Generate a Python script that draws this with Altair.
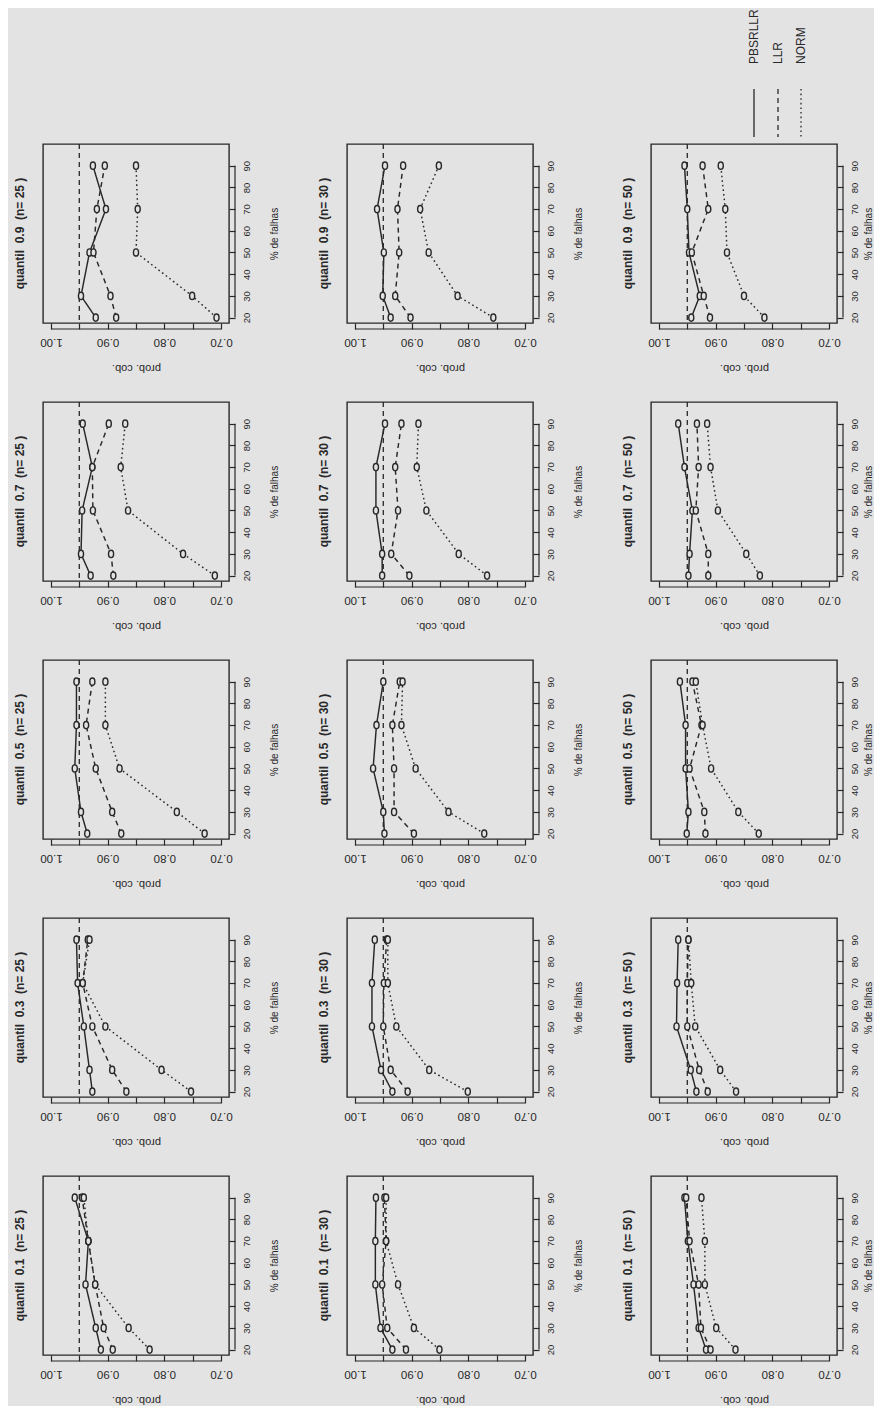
import altair as alt
import pandas as pd

# ---------------- data ----------------
falhas = [20, 30, 50, 70, 90]          # % de falhas
tamanhos = [25, 30, 50]                # n
quantis = ["0.9", "0.7", "0.5", "0.3", "0.1"]
metodos = ["PBSRLLR", "LLR", "NORM"]

# each list: one row per n (25, 30, 50), values at falhas 20,30,50,70,90
pbsrllr_q09 = [[0.921, 0.947, 0.932, 0.903, 0.926],
               [0.937, 0.951, 0.949, 0.961, 0.947],
               [0.943, 0.928, 0.947, 0.950, 0.955]]
llr_q09 = [[0.885, 0.895, 0.925, 0.919, 0.905],
           [0.902, 0.929, 0.922, 0.925, 0.915],
           [0.910, 0.921, 0.942, 0.913, 0.923]]
norm_q09 = [[0.708, 0.751, 0.850, 0.847, 0.850],
            [0.756, 0.819, 0.870, 0.885, 0.852],
            [0.814, 0.850, 0.880, 0.883, 0.891]]

pbsrllr_q07 = [[0.930, 0.947, 0.945, 0.927, 0.944],
               [0.952, 0.952, 0.963, 0.963, 0.947],
               [0.948, 0.946, 0.941, 0.955, 0.966]]
llr_q07 = [[0.890, 0.894, 0.926, 0.927, 0.898],
           [0.904, 0.936, 0.924, 0.929, 0.918],
           [0.913, 0.913, 0.935, 0.930, 0.933]]
norm_q07 = [[0.711, 0.767, 0.864, 0.877, 0.869],
            [0.767, 0.817, 0.874, 0.891, 0.888],
            [0.822, 0.846, 0.896, 0.909, 0.915]]

pbsrllr_q05 = [[0.936, 0.947, 0.958, 0.955, 0.955],
               [0.948, 0.950, 0.968, 0.962, 0.950],
               [0.951, 0.948, 0.953, 0.953, 0.963]]
llr_q05 = [[0.876, 0.892, 0.921, 0.938, 0.927],
           [0.896, 0.931, 0.931, 0.934, 0.921],
           [0.918, 0.920, 0.946, 0.925, 0.941]]
norm_q05 = [[0.729, 0.778, 0.879, 0.904, 0.904],
            [0.772, 0.835, 0.893, 0.918, 0.916],
            [0.824, 0.860, 0.908, 0.923, 0.935]]

pbsrllr_q03 = [[0.927, 0.932, 0.942, 0.953, 0.955],
               [0.934, 0.954, 0.970, 0.970, 0.965],
               [0.934, 0.944, 0.969, 0.968, 0.966]]
llr_q03 = [[0.867, 0.892, 0.927, 0.944, 0.935],
           [0.907, 0.937, 0.950, 0.949, 0.944],
           [0.914, 0.929, 0.950, 0.950, 0.948]]
norm_q03 = [[0.753, 0.805, 0.904, 0.944, 0.932],
            [0.801, 0.869, 0.927, 0.942, 0.942],
            [0.864, 0.892, 0.936, 0.943, 0.948]]

pbsrllr_q01 = [[0.912, 0.921, 0.939, 0.934, 0.958],
               [0.934, 0.955, 0.964, 0.964, 0.963],
               [0.917, 0.930, 0.939, 0.949, 0.955]]
llr_q01 = [[0.891, 0.907, 0.922, 0.934, 0.945],
           [0.910, 0.943, 0.952, 0.945, 0.948],
           [0.909, 0.926, 0.930, 0.946, 0.952]]
norm_q01 = [[0.826, 0.863, 0.922, 0.934, 0.942],
            [0.851, 0.896, 0.924, 0.945, 0.945],
            [0.865, 0.899, 0.919, 0.919, 0.925]]

nominal = [0.95]
prob_ticks = [1.00, 0.95, 0.90, 0.85, 0.80, 0.75, 0.70]
falha_ticks = [20, 30, 40, 50, 60, 70, 80, 90]

series = {
    "0.9": (pbsrllr_q09, llr_q09, norm_q09),
    "0.7": (pbsrllr_q07, llr_q07, norm_q07),
    "0.5": (pbsrllr_q05, llr_q05, norm_q05),
    "0.3": (pbsrllr_q03, llr_q03, norm_q03),
    "0.1": (pbsrllr_q01, llr_q01, norm_q01),
}

# ---------------- style ----------------
BG = "#e3e3e3"
INK = "#282828"
FONT = "Liberation Sans"
W, H = 186, 179
DASHES = {"PBSRLLR": [1, 0], "LLR": [5, 4], "NORM": [1.6, 3]}
ELLIPSE = ("M0,-1C0.39,-1 0.7,-0.55 0.7,0C0.7,0.55 0.39,1 0,1"
           "C-0.39,1 -0.7,0.55 -0.7,0C-0.7,-0.55 -0.39,-1 0,-1Z")

prob_scale = alt.Scale(domain=[0.686, 1.014], reverse=True, nice=False, zero=False)
falha_scale = alt.Scale(domain=[17.5, 100], nice=False, zero=False)

x_axis = alt.Axis(
    values=prob_ticks,
    labelExpr="round(datum.value*100) % 10 == 0 ? format(datum.value, '.2f') : ''",
    labelAngle=180, labelAlign="center", labelBaseline="middle", labelPadding=12,
    labelFontSize=11.5, labelFont=FONT, labelColor=INK, labelOverlap=False, labelFlush=False,
    tickSize=6, tickColor=INK, tickWidth=1.2, domain=False, grid=False,
    titleAngle=180, titleBaseline="middle", titleAlign="center", titleX=W / 2, titleY=44,
    titleFontSize=11, titleFont=FONT, titleColor=INK, titleFontWeight="normal",
)


def make_y_axis(title_x):
    return alt.Axis(
        orient="right", values=falha_ticks,
        labelAngle=270, labelAlign="center", labelBaseline="middle", labelPadding=11,
        labelFontSize=9.5, labelFont=FONT, labelColor=INK, labelOverlap=False, labelFlush=False,
        tickSize=6, tickColor=INK, tickWidth=1.2, domain=False, grid=False,
        titleAngle=270, titleBaseline="middle", titleAlign="center", titleX=title_x, titleY=H / 2,
        titleFontSize=10, titleFont=FONT, titleColor=INK, titleFontWeight="normal",
    )


def panel(q, i, n, with_legend=False):
    vals = [s[i] for s in series[q]]
    y_axis = make_y_axis(45 if i < 2 else 31)

    def X(field):
        return alt.X(field, scale=prob_scale, axis=x_axis, title="prob. cob.")

    def Y(field):
        return alt.Y(field, scale=falha_scale, axis=y_axis, title="% de falhas")

    layers = []
    # axis lines between first and last tick
    layers.append(
        alt.Chart(pd.DataFrame({"prob": [prob_ticks[0]], "b": [prob_ticks[-1]]}))
        .mark_rule(color=INK, strokeWidth=1.2)
        .encode(x=X("prob:Q"), x2="b:Q", y=alt.value(H + 6))
    )
    layers.append(
        alt.Chart(pd.DataFrame({"falhas": [falha_ticks[0]], "b": [falha_ticks[-1]]}))
        .mark_rule(color=INK, strokeWidth=1.2)
        .encode(y=Y("falhas:Q"), y2="b:Q", x=alt.value(W + 6))
    )
    # nominal reference line
    layers.append(
        alt.Chart(pd.DataFrame({"prob": nominal}))
        .mark_rule(color=INK, strokeWidth=1.3, strokeDash=[5, 4])
        .encode(x=X("prob:Q"))
    )
    for m, v in zip(metodos, vals):
        df = pd.DataFrame({"falhas": falhas, "prob": v, "metodo": m})
        base = alt.Chart(df)
        layers.append(
            base.mark_line(color=INK, strokeWidth=1.45, strokeDash=DASHES[m])
            .encode(x=X("prob:Q"), y=Y("falhas:Q"), order="falhas:Q")
        )
        layers.append(
            base.mark_point(shape=ELLIPSE, size=52, filled=True, fill=BG,
                            stroke=INK, strokeWidth=1.45, opacity=1)
            .encode(x=X("prob:Q"), y=Y("falhas:Q"))
        )
    if with_legend:
        for m, dx in zip(metodos, [103, 127, 150]):
            ldf = pd.DataFrame({"metodo": [m]})
            layers.append(
                alt.Chart(ldf).mark_text(angle=270, align="left", baseline="middle",
                                         fontSize=12, font=FONT, color=INK)
                .encode(x=alt.value(dx), y=alt.value(-80), text="metodo:N")
            )
            layers.append(
                alt.Chart(ldf).mark_rule(color=INK, strokeWidth=1.3, strokeDash=DASHES[m])
                .encode(x=alt.value(dx), y=alt.value(-55), y2=alt.value(-7))
            )
    title = f"quantil\u00a0\u00a0{q}\u00a0\u00a0(n=\u00a0{n}\u00a0)"
    return alt.layer(*layers).properties(
        width=W, height=H,
        title=alt.TitleParams(title, orient="left", anchor="middle", frame="group",
                              fontSize=12, fontWeight="bold", font=FONT, color=INK,
                              baseline="middle", offset=8),
    )


panels = []
for q in quantis:
    for i, n in enumerate(tamanhos):
        panels.append(panel(q, i, n, with_legend=(q == "0.9" and n == 50)))

chart = (
    alt.concat(*panels, columns=3, spacing={"row": 79, "column": 118}, bounds="flush")
    .properties(background=BG, padding={"left": 5, "top": 0, "right": 0, "bottom": 0})
    .configure_view(stroke=INK, strokeWidth=1.4, fill=BG)
)

chart.save("out.html", embed_options={"renderer": "svg", "actions": False})
